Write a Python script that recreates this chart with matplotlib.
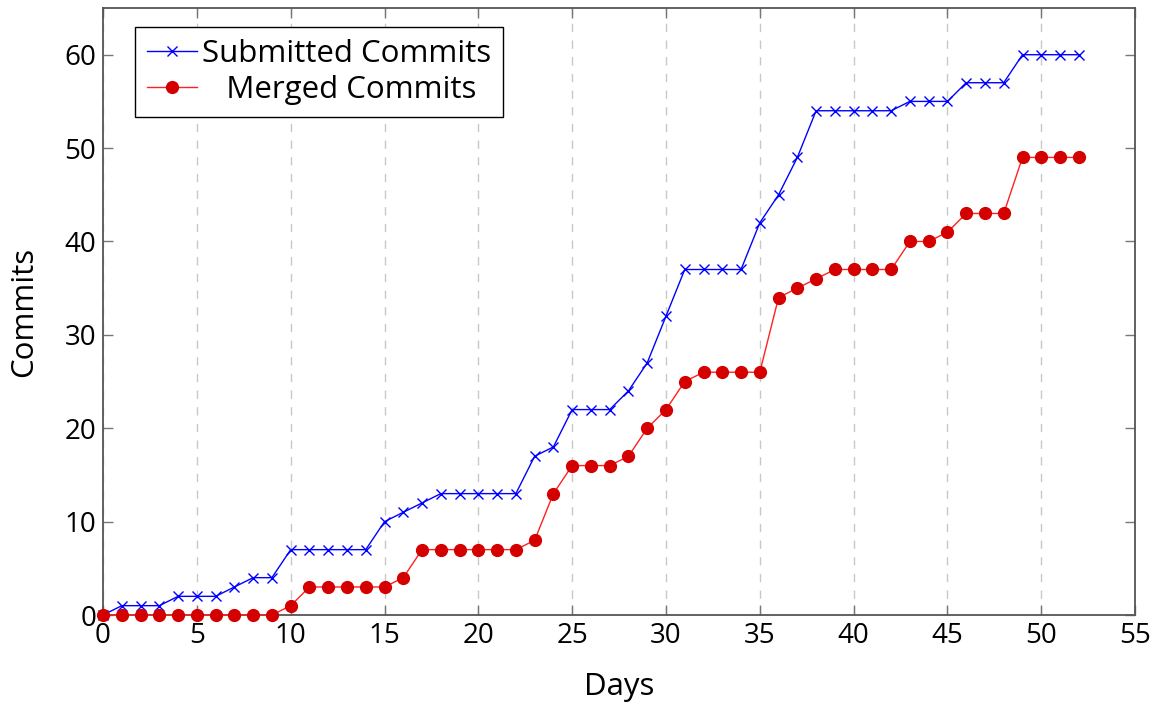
import numpy as np
import matplotlib
matplotlib.use("Agg")
import matplotlib.pyplot as plt
from matplotlib import rcParams

rcParams['font.family'] = ['Open Sans', 'DejaVu Sans']
rcParams['font.size'] = 20
rcParams['axes.linewidth'] = 1.3

days = list(range(0, 53))
submitted = [0, 1, 1, 1, 2, 2, 2, 3, 4, 4,
             7, 7, 7, 7, 7, 10, 11, 12, 13, 13,
             13, 13, 13, 17, 18, 22, 22, 22, 24, 27,
             32, 37, 37, 37, 37, 42, 45, 49, 54, 54,
             54, 54, 54, 55, 55, 55, 57, 57, 57, 60,
             60, 60, 60]
merged = [0, 0, 0, 0, 0, 0, 0, 0, 0, 0,
          1, 3, 3, 3, 3, 3, 4, 7, 7, 7,
          7, 7, 7, 8, 13, 16, 16, 16, 17, 20,
          22, 25, 26, 26, 26, 26, 34, 35, 36, 37,
          37, 37, 37, 40, 40, 41, 43, 43, 43, 49,
          49, 49, 49]
x_ticks = list(range(0, 56, 5))
y_ticks = list(range(0, 61, 10))

fig = plt.figure(figsize=(11.63, 7.04), dpi=100)
ax = fig.add_axes([0.0886, 0.1264, 0.976 - 0.0886, 0.9886 - 0.1264])

ax.plot(days, submitted, '-', color='#0000ff', linewidth=1.0,
        marker='x', markersize=6.5, markeredgewidth=1.0,
        label='Submitted Commits', zorder=3, clip_on=False)
# leading spaces roughly centre the shorter label like the original legend
ax.plot(days, merged, '-', color='#ff2020', linewidth=1.0,
        marker='o', markersize=8.5, markerfacecolor='#d40000',
        markeredgecolor='#d40000', label='   Merged Commits', zorder=3,
        clip_on=False)

ax.set_xlim(0, 55)
ax.set_ylim(0, 65)
ax.set_xticks(x_ticks)
ax.set_yticks(y_ticks)
ax.xaxis.grid(True, linestyle=(0, (6, 6)), color='#c8c8c8', linewidth=1.0)
ax.set_axisbelow(True)
ax.tick_params(direction='in', length=7, width=1.0, color='#777777',
               top=True, right=True, labelsize=20, pad=5)
for s in ax.spines.values():
    s.set_color('#555555')

ax.set_xlabel('Days', fontsize=22.5, labelpad=16)
ax.set_ylabel('Commits', fontsize=22.5, labelpad=18)

leg = ax.legend(loc='upper left', bbox_to_anchor=(0.031, 0.969),
                fancybox=False, framealpha=1, edgecolor='black',
                fontsize=22.5, handlelength=1.6, handletextpad=0.15,
                borderpad=0.38, labelspacing=0.2, borderaxespad=0)
leg.get_frame().set_linewidth(1.0)

fig.savefig('out.png', dpi=100)
